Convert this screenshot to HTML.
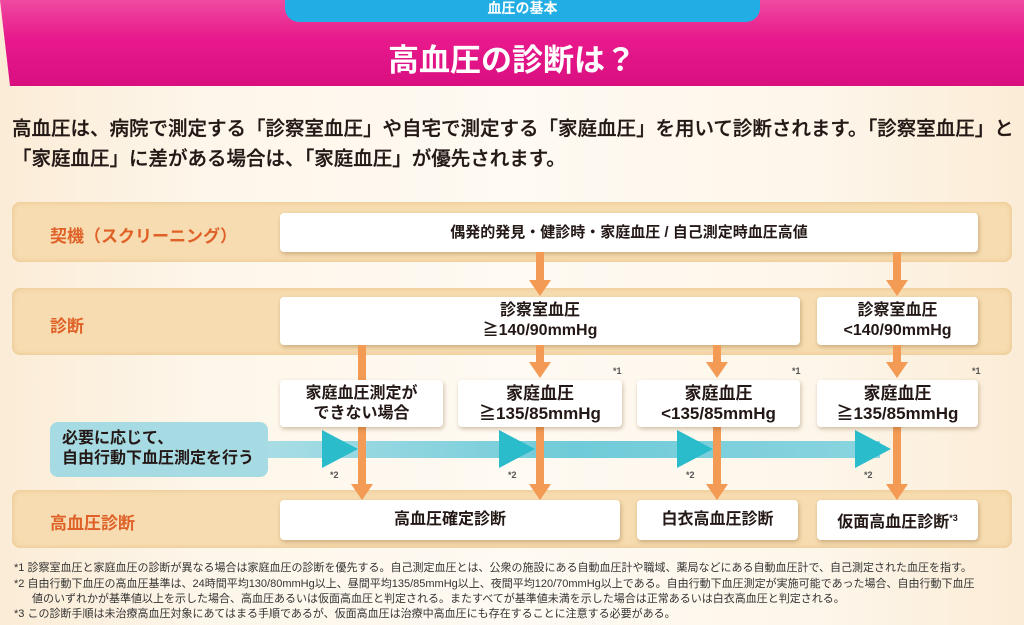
<!DOCTYPE html>
<html><head><meta charset="utf-8"><style>
*{margin:0;padding:0;box-sizing:border-box}
body{width:1024px;height:625px;overflow:hidden;position:relative;background:linear-gradient(90deg,#fbecd6 0%,#fdf6ea 20%,#fffaf2 50%,#fdf6ea 80%,#fbecd6 100%);font-family:"Liberation Sans","Noto Sans CJK JP",sans-serif;color:#231815}
.a{position:absolute}
.band{position:absolute;left:12px;width:1000px;background:#f6dcb0;border-radius:8px;box-shadow:inset 0 0 6px #e9c48c}
.lab{position:absolute;left:50px;color:#df6128;font-weight:bold;font-size:17px}
.box{position:absolute;background:#fff;border-radius:4px;box-shadow:1px 2px 4px rgba(120,80,30,.35);text-align:center;font-weight:bold;font-size:16px;line-height:20px;display:flex;align-items:center;justify-content:center;flex-direction:column}
.v{position:absolute;width:8px;background:#f39a55}
.h{position:absolute;width:0;height:0;border-left:11px solid transparent;border-right:11px solid transparent;border-top:16px solid #f39a55}
.tri{position:absolute;width:0;height:0;border-top:19px solid transparent;border-bottom:19px solid transparent;border-left:36px solid #2bbccc}
.s{position:absolute;font-size:9px;font-weight:bold;color:#555}
.fn{position:absolute;left:14px;font-size:11px;line-height:15px;color:#333;white-space:nowrap}
</style></head><body>
<div class="a" style="left:0;top:0;width:1024px;height:86px;background:linear-gradient(#ef4aa0,#e8198c 45%,#d90f80);clip-path:polygon(0 0,100% 0,100% 100%,10px 100%);box-shadow:0 3px 6px rgba(0,0,0,.3)"></div>
<div class="a" style="left:285px;top:0;width:475px;height:22px;background:#22aee4;border-radius:0 0 14px 14px"></div>
<div class="a" style="left:285px;top:0;width:475px;height:20px;color:#fff;font-weight:bold;font-size:14px;text-align:center;line-height:16px">血圧の基本</div>
<div class="a" style="left:0;top:40px;width:1024px;text-align:center;color:#fff;font-weight:bold;font-size:31px;line-height:42px">高血圧の診断は？</div>
<div class="a" style="left:12px;top:114px;font-size:19.5px;line-height:30px;white-space:nowrap;font-weight:500;-webkit-text-stroke:0.3px #231815">高血圧は、病院で測定する「診察室血圧」や自宅で測定する「家庭血圧」を用いて診断されます。「診察室血圧」と<br>「家庭血圧」に差がある場合は、「家庭血圧」が優先されます。</div>

<div class="band" style="top:202px;height:60px"></div>
<div class="band" style="top:288px;height:67px"></div>
<div class="band" style="top:490px;height:58px"></div>
<div class="lab" style="top:222px">契機（スクリーニング）</div>
<div class="lab" style="top:312px">診断</div>
<div class="lab" style="top:509px">高血圧診断</div>

<div class="box" style="left:280px;top:213px;width:698px;height:39px;font-size:15px">偶発的発見・健診時・家庭血圧 / 自己測定時血圧高値</div>
<div class="box" style="left:280px;top:297px;width:520px;height:48px">診察室血圧<br>≧140/90mmHg</div>
<div class="box" style="left:817px;top:297px;width:161px;height:48px">診察室血圧<br>&lt;140/90mmHg</div>

<div class="a" style="left:50px;top:422px;width:218px;height:55px;background:#a6dbe3;border-radius:8px"></div>
<div class="a" style="left:62px;top:429px;font-weight:bold;font-size:16px;line-height:20px">必要に応じて、<br>自由行動下血圧測定を行う</div>
<div class="a" style="left:268px;top:441px;width:612px;height:17px;background:linear-gradient(90deg,#a8dde5,#6fcbd8 50%,#8ad4df)"></div>
<div class="tri" style="left:322px;top:430px"></div>
<div class="tri" style="left:499px;top:430px"></div>
<div class="tri" style="left:677px;top:430px"></div>
<div class="tri" style="left:855px;top:430px"></div>
<div class="s" style="left:330px;top:470px">*2</div>
<div class="s" style="left:508px;top:470px">*2</div>
<div class="s" style="left:686px;top:470px">*2</div>
<div class="s" style="left:864px;top:470px">*2</div>

<div class="v" style="left:536px;top:252px;height:30px"></div><div class="h" style="left:529px;top:280px"></div>
<div class="v" style="left:893px;top:252px;height:30px"></div><div class="h" style="left:886px;top:280px"></div>
<div class="v" style="left:358px;top:345px;height:140px"></div><div class="h" style="left:351px;top:484px"></div>
<div class="v" style="left:536px;top:345px;height:18px"></div><div class="h" style="left:529px;top:362px"></div>
<div class="v" style="left:713px;top:345px;height:18px"></div><div class="h" style="left:706px;top:362px"></div>
<div class="v" style="left:893px;top:345px;height:18px"></div><div class="h" style="left:886px;top:362px"></div>
<div class="v" style="left:536px;top:427px;height:58px"></div><div class="h" style="left:529px;top:484px"></div>
<div class="v" style="left:713px;top:427px;height:58px"></div><div class="h" style="left:706px;top:484px"></div>
<div class="v" style="left:893px;top:427px;height:58px"></div><div class="h" style="left:886px;top:484px"></div>

<div class="box" style="left:280px;top:380px;width:163px;height:47px">家庭血圧測定が<br>できない場合</div>
<div class="box" style="left:458px;top:380px;width:164px;height:47px;font-size:17px">家庭血圧<br>≧135/85mmHg</div>
<div class="box" style="left:637px;top:380px;width:163px;height:47px;font-size:17px">家庭血圧<br>&lt;135/85mmHg</div>
<div class="box" style="left:817px;top:380px;width:161px;height:47px;font-size:17px">家庭血圧<br>≧135/85mmHg</div>
<div class="s" style="left:613px;top:366px">*1</div>
<div class="s" style="left:792px;top:366px">*1</div>
<div class="s" style="left:972px;top:366px">*1</div>

<div class="box" style="left:280px;top:500px;width:340px;height:40px">高血圧確定診断</div>
<div class="box" style="left:637px;top:500px;width:161px;height:40px">白衣高血圧診断</div>
<div class="box" style="left:817px;top:500px;width:161px;height:40px"><span>仮面高血圧診断<span style="font-size:9px;vertical-align:6px">*3</span></span></div>

<div class="fn" style="top:561px">*1 診察室血圧と家庭血圧の診断が異なる場合は家庭血圧の診断を優先する。自己測定血圧とは、公衆の施設にある自動血圧計や職域、薬局などにある自動血圧計で、自己測定された血圧を指す。</div>
<div class="fn" style="top:577px">*2 自由行動下血圧の高血圧基準は、24時間平均130/80mmHg以上、昼間平均135/85mmHg以上、夜間平均120/70mmHg以上である。自由行動下血圧測定が実施可能であった場合、自由行動下血圧</div>
<div class="fn" style="top:592px;left:32px">値のいずれかが基準値以上を示した場合、高血圧あるいは仮面高血圧と判定される。またすべてが基準値未満を示した場合は正常あるいは白衣高血圧と判定される。</div>
<div class="fn" style="top:607px">*3 この診断手順は未治療高血圧対象にあてはまる手順であるが、仮面高血圧は治療中高血圧にも存在することに注意する必要がある。</div>
</body></html>
